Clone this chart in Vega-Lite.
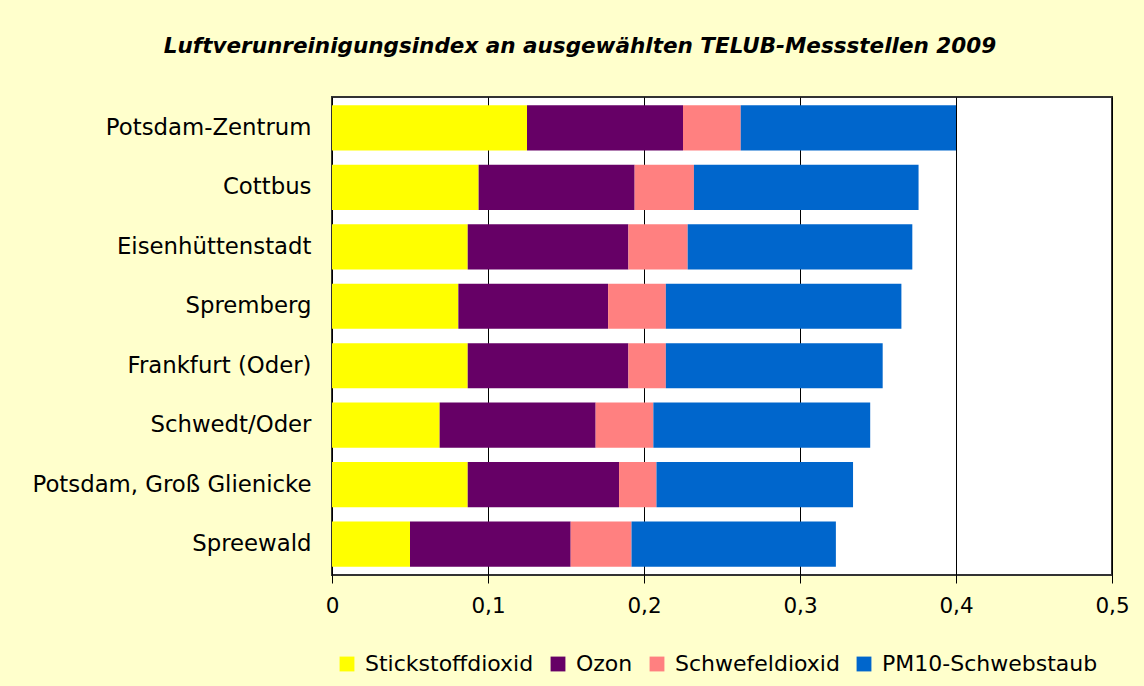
{
  "$schema": "https://vega.github.io/schema/vega-lite/v6.json",
  "autosize": "none",
  "width": 780,
  "height": 478,
  "padding": {"left": 332, "top": 97, "right": 32, "bottom": 111},
  "background": "#FFFFCC",
  "title": {
    "text": "Luftverunreinigungsindex an ausgewählten TELUB-Messstellen 2009",
    "font": "DejaVu Sans",
    "fontSize": 21.5,
    "fontStyle": "italic",
    "fontWeight": "bold",
    "color": "#000000",
    "anchor": "middle",
    "dx": -142,
    "offset": 40
  },
  "data": {
    "values": [
      {"station": "Potsdam-Zentrum", "component": "Stickstoffdioxid", "k": 1, "value": 0.125},
      {"station": "Potsdam-Zentrum", "component": "Ozon", "k": 2, "value": 0.100},
      {"station": "Potsdam-Zentrum", "component": "Schwefeldioxid", "k": 3, "value": 0.037},
      {"station": "Potsdam-Zentrum", "component": "PM10-Schwebstaub", "k": 4, "value": 0.138},
      {"station": "Cottbus", "component": "Stickstoffdioxid", "k": 1, "value": 0.094},
      {"station": "Cottbus", "component": "Ozon", "k": 2, "value": 0.100},
      {"station": "Cottbus", "component": "Schwefeldioxid", "k": 3, "value": 0.038},
      {"station": "Cottbus", "component": "PM10-Schwebstaub", "k": 4, "value": 0.144},
      {"station": "Eisenhüttenstadt", "component": "Stickstoffdioxid", "k": 1, "value": 0.087},
      {"station": "Eisenhüttenstadt", "component": "Ozon", "k": 2, "value": 0.103},
      {"station": "Eisenhüttenstadt", "component": "Schwefeldioxid", "k": 3, "value": 0.038},
      {"station": "Eisenhüttenstadt", "component": "PM10-Schwebstaub", "k": 4, "value": 0.144},
      {"station": "Spremberg", "component": "Stickstoffdioxid", "k": 1, "value": 0.081},
      {"station": "Spremberg", "component": "Ozon", "k": 2, "value": 0.096},
      {"station": "Spremberg", "component": "Schwefeldioxid", "k": 3, "value": 0.037},
      {"station": "Spremberg", "component": "PM10-Schwebstaub", "k": 4, "value": 0.151},
      {"station": "Frankfurt (Oder)", "component": "Stickstoffdioxid", "k": 1, "value": 0.087},
      {"station": "Frankfurt (Oder)", "component": "Ozon", "k": 2, "value": 0.103},
      {"station": "Frankfurt (Oder)", "component": "Schwefeldioxid", "k": 3, "value": 0.024},
      {"station": "Frankfurt (Oder)", "component": "PM10-Schwebstaub", "k": 4, "value": 0.139},
      {"station": "Schwedt/Oder", "component": "Stickstoffdioxid", "k": 1, "value": 0.069},
      {"station": "Schwedt/Oder", "component": "Ozon", "k": 2, "value": 0.100},
      {"station": "Schwedt/Oder", "component": "Schwefeldioxid", "k": 3, "value": 0.037},
      {"station": "Schwedt/Oder", "component": "PM10-Schwebstaub", "k": 4, "value": 0.139},
      {"station": "Potsdam, Groß Glienicke", "component": "Stickstoffdioxid", "k": 1, "value": 0.087},
      {"station": "Potsdam, Groß Glienicke", "component": "Ozon", "k": 2, "value": 0.097},
      {"station": "Potsdam, Groß Glienicke", "component": "Schwefeldioxid", "k": 3, "value": 0.024},
      {"station": "Potsdam, Groß Glienicke", "component": "PM10-Schwebstaub", "k": 4, "value": 0.126},
      {"station": "Spreewald", "component": "Stickstoffdioxid", "k": 1, "value": 0.050},
      {"station": "Spreewald", "component": "Ozon", "k": 2, "value": 0.103},
      {"station": "Spreewald", "component": "Schwefeldioxid", "k": 3, "value": 0.039},
      {"station": "Spreewald", "component": "PM10-Schwebstaub", "k": 4, "value": 0.131}
    ]
  },
  "mark": {"type": "bar"},
  "encoding": {
    "y": {
      "field": "station",
      "type": "nominal",
      "sort": null,
      "scale": {"paddingInner": 0.24, "paddingOuter": 0.14},
      "axis": {
        "title": null,
        "ticks": false,
        "domain": false,
        "labelFont": "DejaVu Sans",
        "labelFontSize": 22.8,
        "labelColor": "#000000",
        "labelPadding": 21,
        "labelLimit": 400
      }
    },
    "x": {
      "field": "value",
      "type": "quantitative",
      "stack": "zero",
      "scale": {"domain": [0, 0.5], "nice": false, "zero": true},
      "axis": {
        "title": null,
        "values": [0, 0.1, 0.2, 0.3, 0.4, 0.5],
        "labelExpr": "datum.value == 0 ? '0' : replace(format(datum.value, '.1f'), '.', ',')",
        "labelFont": "DejaVu Sans",
        "labelFontSize": 21.5,
        "labelColor": "#000000",
        "labelPadding": 12,
        "labelFlush": false,
        "ticks": true,
        "tickColor": "#000000",
        "tickSize": 8,
        "domain": false,
        "grid": true,
        "gridColor": "#000000",
        "gridWidth": 1,
        "gridOpacity": 1
      }
    },
    "color": {
      "field": "component",
      "type": "nominal",
      "scale": {
        "domain": ["Stickstoffdioxid", "Ozon", "Schwefeldioxid", "PM10-Schwebstaub"],
        "range": ["#FFFF00", "#660066", "#FF8080", "#0066CC"]
      },
      "legend": {
        "title": null,
        "orient": "none",
        "direction": "horizontal",
        "legendX": 4,
        "legendY": 556,
        "symbolType": "square",
        "symbolSize": 220,
        "symbolStrokeWidth": 0,
        "symbolOpacity": 1,
        "labelFont": "DejaVu Sans",
        "labelFontSize": 22,
        "labelColor": "#000000",
        "labelOffset": 7,
        "columnPadding": 13,
        "labelLimit": 300
      }
    },
    "order": {"field": "k", "type": "quantitative"}
  },
  "config": {
    "view": {"fill": "#FFFFFF", "stroke": "#333333", "strokeWidth": 2}
  }
}
